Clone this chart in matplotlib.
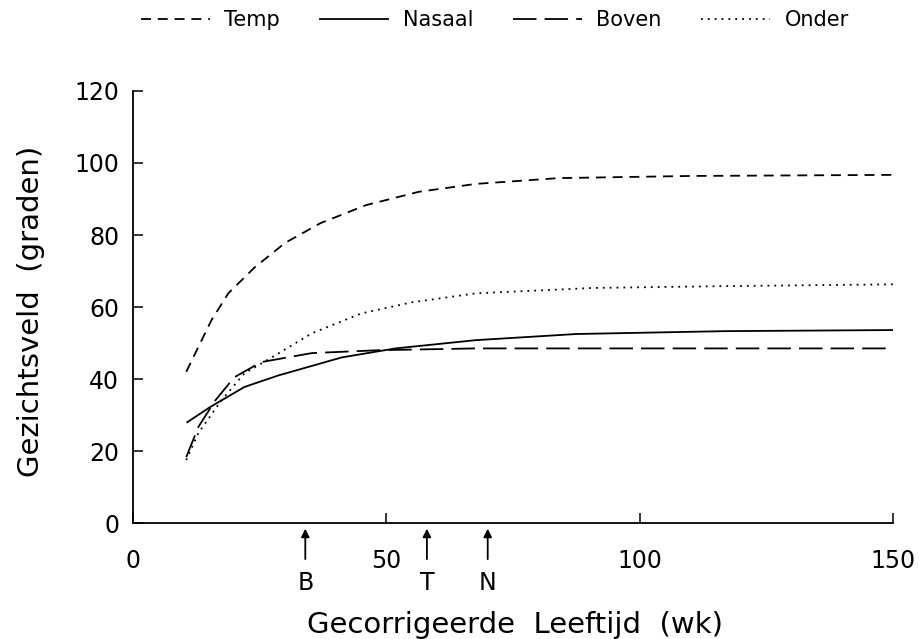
import matplotlib
matplotlib.use("Agg")
import matplotlib.pyplot as plt

# weeks (corrected age) and visual field (degrees)
tempX = [10.5, 15.5, 18.8, 24, 30, 37, 46, 56.4, 67.7, 84, 110, 150]
tempY = [42, 56.4, 63.8, 71, 77.8, 83.3, 88.3, 92, 94.2, 95.8, 96.4, 96.7]

nasaalX = [10.7, 15.2, 22, 28.7, 41.2, 51.8, 67.7, 87.5, 117, 150]
nasaalY = [28, 32.2, 37.8, 41, 46, 48.5, 50.8, 52.5, 53.3, 53.6]

bovenX = [10.5, 12.9, 16.2, 20, 25.3, 35.3, 48.5, 67.7, 150]
bovenY = [18.3, 26.7, 34, 40.5, 44.7, 47.2, 48, 48.5, 48.5]

onderX = [10.5, 12.9, 17.4, 22, 27.4, 35.3, 45, 55, 67.7, 90.8, 117, 150]
onderY = [17.5, 25, 34, 41.6, 46, 52.7, 58.2, 61.3, 63.8, 65.3, 65.8, 66.3]

markerX = [34, 58, 70]
markerLabels = ["B", "T", "N"]

xticks = [0, 50, 100, 150]
yticks = [0, 20, 40, 60, 80, 100, 120]

plt.rcParams['font.family'] = ['DejaVu Sans']

fig = plt.figure(figsize=(9.2, 6.39), dpi=100)
ax = fig.add_axes([0.1446, 0.1815, 0.8261, 0.6761])

lw = 1.3
l1, = ax.plot(tempX, tempY, color='black', lw=lw, linestyle=(0, (5.5, 3.8)), label='Temp')
l2, = ax.plot(nasaalX, nasaalY, color='black', lw=lw, linestyle='-', label='Nasaal')
l3, = ax.plot(bovenX, bovenY, color='black', lw=lw, linestyle=(0, (13, 4.5)), label='Boven')
l4, = ax.plot(onderX, onderY, color='black', lw=lw, linestyle=(0, (1, 2.8)), label='Onder')

ax.set_xlim(0, 150)
ax.set_ylim(0, 120)
ax.set_xticks(xticks)
ax.set_yticks(yticks)
ax.spines['top'].set_visible(False)
ax.spines['right'].set_visible(False)
ax.spines['left'].set_linewidth(1.3)
ax.spines['bottom'].set_linewidth(1.3)
ax.tick_params(direction='in', length=7, width=1.1, labelsize=17)
ax.tick_params(axis='y', pad=10)
ax.tick_params(axis='x', pad=19)

# arrows under the x axis
for x, lab in zip(markerX, markerLabels):
    ax.annotate('', xy=(x, -0.8), xytext=(x, -10.8), xycoords='data', textcoords='data',
                arrowprops=dict(arrowstyle='-|>', color='black', lw=1.3, mutation_scale=12),
                annotation_clip=False)
    ax.text(x, -13.2, lab, ha='center', va='top', fontsize=17)

ax.set_xlabel('Gecorrigeerde  Leeftijd  (wk)', fontsize=21)
ax.xaxis.set_label_coords(0.503, -0.236)
ax.xaxis.label.set_va('center')
ax.set_ylabel('Gezichtsveld  (graden)', fontsize=21)
ax.yaxis.set_label_coords(-0.134, 0.49)
ax.yaxis.label.set_va('center')

fig.legend(handles=[l1, l2, l3, l4], loc='center', bbox_to_anchor=(0.538, 0.969),
           ncol=4, frameon=False, fontsize=15, handlelength=3.3, columnspacing=1.9,
           handletextpad=0.7)

fig.savefig('out.png', dpi=100)
